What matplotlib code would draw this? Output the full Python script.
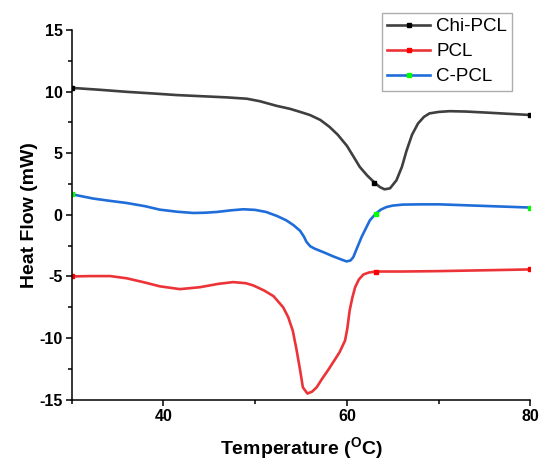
import matplotlib
matplotlib.use("Agg")
import matplotlib.pyplot as plt
from matplotlib.ticker import MultipleLocator

plt.rcParams['font.family'] = ['Liberation Sans', 'DejaVu Sans']
plt.rcParams['mathtext.fontset'] = 'custom'
plt.rcParams['mathtext.rm'] = 'Liberation Sans:bold'
plt.rcParams['mathtext.it'] = 'Liberation Sans:bold'
plt.rcParams['mathtext.bf'] = 'Liberation Sans:bold'
plt.rcParams['axes.unicode_minus'] = False

# Chi-PCL curve (temperature, heat flow)
chi_t = [30, 33, 36, 39, 41.4, 44, 46.9, 49.1, 50.5, 52.3, 53.8, 55, 56, 57.1, 58.1, 59, 60,
         60.7, 61.4, 62.2, 63.0, 63.6, 64.1, 64.7, 65.4, 66, 66.5, 67.1, 67.75, 68.4, 69,
         70, 71.2, 73, 75.6, 78, 80]
chi_q = [10.3, 10.15, 9.98, 9.84, 9.72, 9.63, 9.53, 9.42, 9.22, 8.85, 8.6, 8.33, 8.09, 7.7, 7.14,
         6.5, 5.6, 4.75, 3.89, 3.2, 2.62, 2.25, 2.07, 2.15, 2.8, 3.9, 5.2, 6.5, 7.41, 7.95, 8.23,
         8.35, 8.41, 8.38, 8.28, 8.18, 8.1]
chi_marks = [0, 20, 36]

# PCL curve
pcl_t = [30, 32, 34.2, 36, 37.8, 39.6, 41.8, 44, 46, 47.6, 49, 49.8, 51, 52, 53.05, 53.6, 54.1,
         54.5, 54.9, 55.2, 55.7, 56.2, 56.7, 57.3, 57.95, 58.6, 59.2, 59.8, 60.05, 60.3, 60.6,
         60.9, 61.3, 61.8, 62.4, 63.2, 66, 69.8, 75, 80]
pcl_q = [-5.0, -4.97, -4.97, -5.15, -5.46, -5.8, -6.03, -5.87, -5.6, -5.46, -5.55, -5.73, -6.15,
         -6.6, -7.5, -8.3, -9.4, -10.9, -12.6, -14.0, -14.5, -14.35, -14.0, -13.3, -12.6, -11.85,
         -11.15, -10.2, -9.2, -7.76, -6.7, -5.87, -5.25, -4.84, -4.68, -4.6, -4.6, -4.57, -4.5,
         -4.43]
pcl_marks = [0, 35, 39]

# C-PCL curve
cpcl_t = [30, 32.35, 34, 36, 38, 39.6, 41.5, 43.25, 44.5, 45.8, 47.3, 48.7, 50, 51.2, 52.4, 53.4,
          54.2, 54.9, 55.3, 55.6, 56, 56.5, 57.5, 58.5, 59.3, 59.96, 60.4, 60.7, 61.1, 61.6, 62.1,
          62.5, 63.15, 63.7, 64.3, 65, 66.1, 68, 70.1, 75, 80]
cpcl_q = [1.67, 1.32, 1.15, 0.96, 0.7, 0.42, 0.25, 0.15, 0.17, 0.23, 0.36, 0.45, 0.4, 0.23, -0.1,
          -0.45, -0.85, -1.3, -1.75, -2.2, -2.55, -2.75, -3.05, -3.37, -3.6, -3.78, -3.7, -3.43,
          -2.7, -1.8, -1.05, -0.45, 0.1, 0.42, 0.63, 0.75, 0.83, 0.85, 0.85, 0.72, 0.59]
cpcl_marks = [0, 32, 40]

fig = plt.figure(figsize=(5.39, 4.61), dpi=100)
ax = fig.add_axes([0.133, 0.133, 0.851, 0.802])

ax.plot(chi_t, chi_q, color='#3f3f3f', lw=1.9, marker='s', ms=3.2, mfc='black', mec='black',
        markevery=chi_marks, label='Chi-PCL')
ax.plot(pcl_t, pcl_q, color='#ec3338', lw=1.9, marker='s', ms=3.2, mfc='red', mec='red',
        markevery=pcl_marks, label='PCL')
ax.plot(cpcl_t, cpcl_q, color='#1f6dd8', lw=1.9, marker='s', ms=3.2, mfc='#00ff00', mec='#00ff00',
        markevery=cpcl_marks, label='C-PCL')

ax.set_xlim(30, 80)
ax.set_ylim(-15, 15)
ax.xaxis.set_major_locator(MultipleLocator(20))
ax.xaxis.set_minor_locator(MultipleLocator(10))
ax.yaxis.set_major_locator(MultipleLocator(5))
ax.yaxis.set_minor_locator(MultipleLocator(2.5))
ax.spines['top'].set_visible(False)
ax.spines['right'].set_visible(False)
for s in ['left', 'bottom']:
    ax.spines[s].set_linewidth(1.1)
ax.tick_params(which='major', direction='out', length=4.5, width=1.1, labelsize=11.5, pad=2)
ax.tick_params(which='minor', direction='out', length=3, width=1.1)
for lab in ax.get_xticklabels() + ax.get_yticklabels():
    lab.set_fontweight('bold')

ax.set_xlabel(r'Temperature ($^{\rm O}$C)', fontsize=14, fontweight='bold', labelpad=8)
ax.set_ylabel('Heat Flow (mW)', fontsize=14, fontweight='bold', labelpad=1)

leg = ax.legend(loc='upper left', bbox_to_anchor=(382 / 539, 1 - 13 / 461),
                bbox_transform=fig.transFigure, fontsize=13.5, frameon=True, fancybox=False,
                handlelength=2.3, handletextpad=0.3, labelspacing=0.42, borderpad=0.28,
                borderaxespad=0)
leg.get_frame().set_edgecolor('#999999')
leg.get_frame().set_linewidth(1.0)

fig.savefig('out.png', dpi=100)
